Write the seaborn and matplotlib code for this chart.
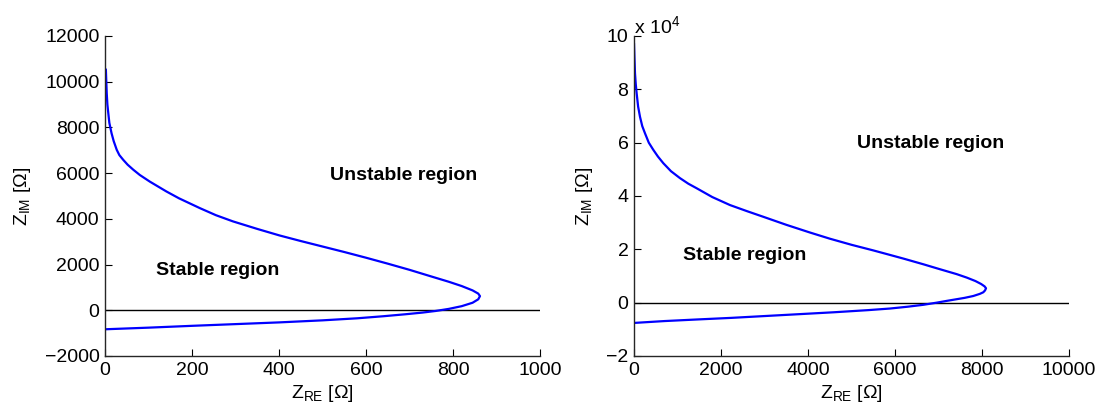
import numpy as np
import matplotlib
matplotlib.use("Agg")
import matplotlib.pyplot as plt
import matplotlib.ticker as mticker
import seaborn as sns
import pandas as pd

# Left panel: Z_RE [Ohm] vs Z_IM [Ohm]
left_re = [2, 3, 4, 5.5, 7.6, 10, 15, 20, 27, 33, 42, 52, 65, 80, 103, 141, 170, 218, 255, 294, 350,
           401, 450, 500, 550, 600, 650, 700, 750, 790, 820, 845, 858, 862, 858, 845, 820, 790, 760,
           730, 690, 640, 580, 500, 400, 300, 200, 100, 0]
left_im = [10540, 10000, 9490, 9000, 8620, 8200, 7750, 7400, 7020, 6790, 6580, 6370, 6150, 5920, 5630,
           5200, 4900, 4470, 4160, 3890, 3560, 3275, 3030, 2790, 2550, 2300, 2040, 1770, 1480, 1250,
           1060, 870, 730, 620, 480, 330, 180, 60, -30, -100, -175, -260, -350, -440, -530, -605,
           -680, -760, -831]

# Right panel
right_re = [0, 10, 23, 40, 61, 95, 138, 190, 253, 340, 444, 550, 674, 850, 1057, 1250, 1441, 1800,
            2207, 2600, 2973, 3500, 4046, 4500, 5000, 5500, 5885, 6200, 6651, 7000, 7418, 7650, 7850,
            7980, 8060, 8092, 8070, 8030, 7950, 7800, 7600, 7418, 7200, 6958, 6651, 6300, 5885, 5381,
            4596, 3810, 3024, 2239, 1453, 700, 0]
right_im = [97300, 92000, 86000, 82000, 78500, 73500, 69700, 66200, 63500, 60000, 57300, 54800, 52300,
            49300, 46700, 44600, 42900, 39600, 36600, 34300, 32200, 29200, 26300, 24000, 21700, 19600,
            17900, 16500, 14400, 12700, 10700, 9400, 8100, 7000, 6100, 5400, 4600, 3900, 3300, 2500,
            1800, 1300, 700, 0, -800, -1500, -2200, -2800, -3600, -4300, -5000, -5700, -6300, -6900,
            -7600]

sns.set_theme(style="ticks")
plt.rcParams['font.family'] = ['Liberation Sans', 'DejaVu Sans']
plt.rcParams['mathtext.fontset'] = 'custom'
plt.rcParams['mathtext.rm'] = 'Liberation Sans'
plt.rcParams['mathtext.it'] = 'Liberation Sans'
plt.rcParams['text.color'] = 'black'
plt.rcParams['axes.labelcolor'] = 'black'

fs = 14
fig = plt.figure(figsize=(10.97, 4.16), dpi=100)
ax1 = fig.add_axes([105 / 1097, 1 - 356 / 416, 435 / 1097, 320 / 416])
ax2 = fig.add_axes([634 / 1097, 1 - 356 / 416, 435 / 1097, 320 / 416])

df1 = pd.DataFrame({"re": left_re, "im": left_im})
df2 = pd.DataFrame({"re": right_re, "im": right_im})

for ax, df, xmax, ylim, yticks, xticks in [
    (ax1, df1, 1000, (-2000, 12000), np.arange(-2000, 12001, 2000), np.arange(0, 1001, 200)),
    (ax2, df2, 10000, (-20000, 100000), np.arange(-20000, 100001, 20000), np.arange(0, 10001, 2000)),
]:
    ax.axhline(0, xmin=0, xmax=1, color='black', lw=1.0, zorder=1)
    sns.lineplot(data=df, x="re", y="im", sort=False, estimator=None, color='#0000ff', lw=1.6, ax=ax, zorder=2)
    ax.set_xlim(0, xmax)
    ax.set_ylim(*ylim)
    ax.set_xticks(xticks)
    ax.set_yticks(yticks)
    sns.despine(ax=ax)
    for s in ['left', 'bottom']:
        ax.spines[s].set_color('#262626')
        ax.spines[s].set_linewidth(1.0)
    ax.tick_params(direction='in', length=5, width=0.8, labelsize=fs, colors='black', pad=4)
    ax.set_xlabel(r'Z$_{\mathrm{RE}}$ [Ω]', fontsize=fs, labelpad=3)
    ax.set_ylabel(r'Z$_{\mathrm{IM}}$ [Ω]', fontsize=fs, labelpad=8)
    ax.set_facecolor('white')

ax2.yaxis.set_major_formatter(mticker.FuncFormatter(lambda v, p: f"{v/1e4:g}".replace('-', '\u2212')))
ax2.annotate(r'x 10$^{4}$', xy=(0.0, 1.0), xycoords='axes fraction', xytext=(0, 2),
             textcoords='offset points', fontsize=fs, ha='left', va='baseline')

ax1.text(518, 5900, 'Unstable region', fontsize=fs, fontweight='bold', va='center', ha='left')
ax1.text(117, 1730, 'Stable region', fontsize=fs, fontweight='bold', va='center', ha='left')
ax2.text(5126, 59700, 'Unstable region', fontsize=fs, fontweight='bold', va='center', ha='left')
ax2.text(1126, 17600, 'Stable region', fontsize=fs, fontweight='bold', va='center', ha='left')

fig.savefig('out.png', dpi=100, facecolor='white')
